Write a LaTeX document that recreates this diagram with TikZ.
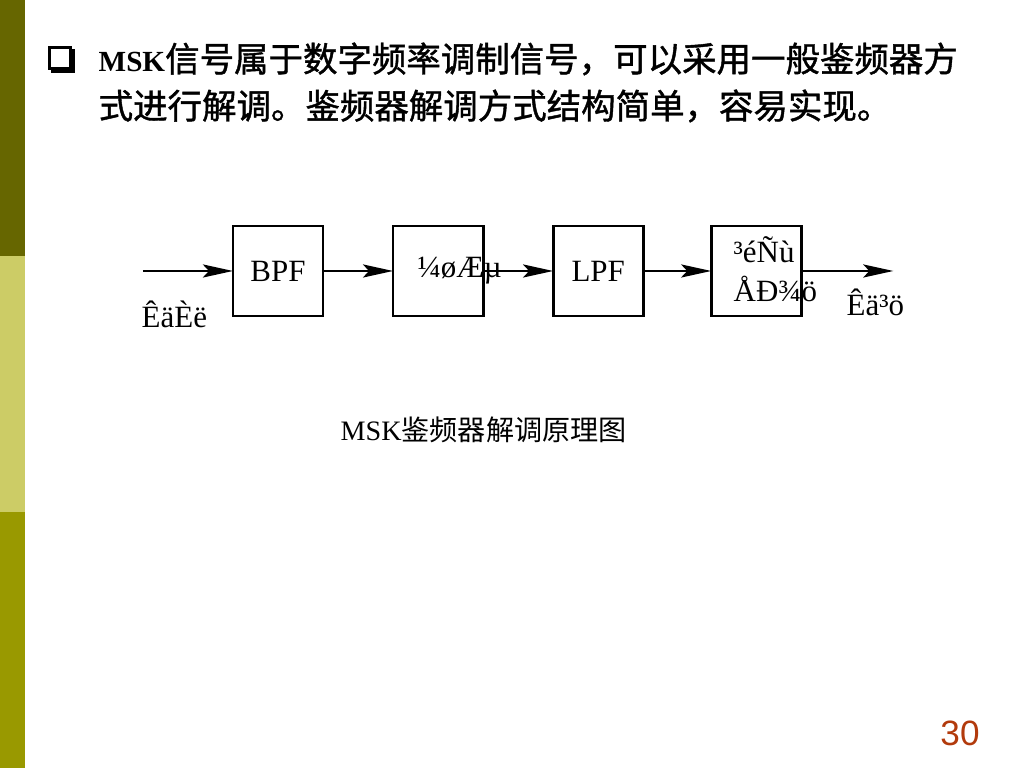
\documentclass[tikz,border=0pt]{standalone}
\usepackage{fontspec}
\setmainfont{Liberation Serif}
\newfontfamily\cjk{Noto Sans CJK SC}
\newfontfamily\cjkbf{Noto Sans CJK SC}[FakeBold=1.2]
\newfontfamily\numfont{Liberation Sans}
\usetikzlibrary{arrows.meta, positioning}
\definecolor{bardark}{RGB}{102,102,0}
\definecolor{barlight}{RGB}{204,204,102}
\definecolor{barolive}{RGB}{153,153,0}
\definecolor{pagered}{RGB}{178,58,12}

\begin{document}
\begin{tikzpicture}[
    x=0.01cm, y=-0.01cm,
    node distance=0.7cm and 0.7cm,
    block/.style={
        rectangle,
        draw,
        line width=0.8pt,
        minimum width=0.9cm,
        minimum height=0.9cm,
        inner sep=0pt,
        outer sep=0pt,
        font=\fontsize{8.8}{10}\selectfont
    },
    lbl/.style={
        inner sep=0pt,
        anchor=west,
        align=left,
        font=\fontsize{8.8}{11.1}\selectfont
    },
    arrow/.style={-{Stealth[length=3mm, width=1.3mm, inset=0.6mm]}, line width=0.8pt}
]
\useasboundingbox (0,0) rectangle (1024,768);
\fill[white] (0,0) rectangle (1024,768);

% side bar
\fill[bardark] (0,0) rectangle (25,256);
\fill[barlight] (0,256) rectangle (25,512);
\fill[barolive] (0,512) rectangle (25,768);

% bullet and text
\fill (51,49) rectangle (75,73);
\fill (48,46) rectangle (72,70);
\fill[white] (51,49) rectangle (69,67);
\node[anchor=west, inner sep=0pt] (line1) at (98,59)
    {{\fontsize{8.3}{10}\selectfont\bfseries MSK}{\cjkbf\fontsize{9.8}{12}\selectfont 信号属于数字频率调制信号，可以采用一般鉴频器方}};
\node[anchor=west, inner sep=0pt] (line2) at (98,106)
    {\cjkbf\fontsize{9.8}{12}\selectfont 式进行解调。鉴频器解调方式结构简单，容易实现。};

% blocks
\node[block] (bpf) at (278,271) {BPF};
\node[block, right=of bpf] (disc) {};
\node[block, right=of disc] (lpf) {LPF};
\node[block, right=0.68cm of lpf] (samp) {};
\coordinate[left=0.9cm of bpf] (in);
\coordinate[right=0.92cm of samp] (out);
\draw[arrow] (in) -- (bpf);
\draw[arrow] (bpf) -- (disc);
\draw[arrow] (disc) -- (lpf);
\draw[arrow] (lpf) -- (samp);
\draw[arrow] (samp) -- (out);

% labels
\node[lbl] (disclbl) at (417,271) {¼øÆµ};
\node[lbl] (samplbl) at (733,269) {³éÑù\\ÅÐ¾ö};
\node[lbl] (inlbl) at (141,314) {ÊäÈë};
\node[lbl] (outlbl) at (846,302) {Êä³ö};

% caption
\node[anchor=west, inner sep=0pt, font=\fontsize{8}{10}\selectfont] (caption) at (340,430)
    {MSK{\cjk 鉴频器解调原理图}};

\node[font=\numfont\fontsize{10}{12}\selectfont, text=pagered] (pagenum) at (960,733) {30};
\end{tikzpicture}
\end{document}
